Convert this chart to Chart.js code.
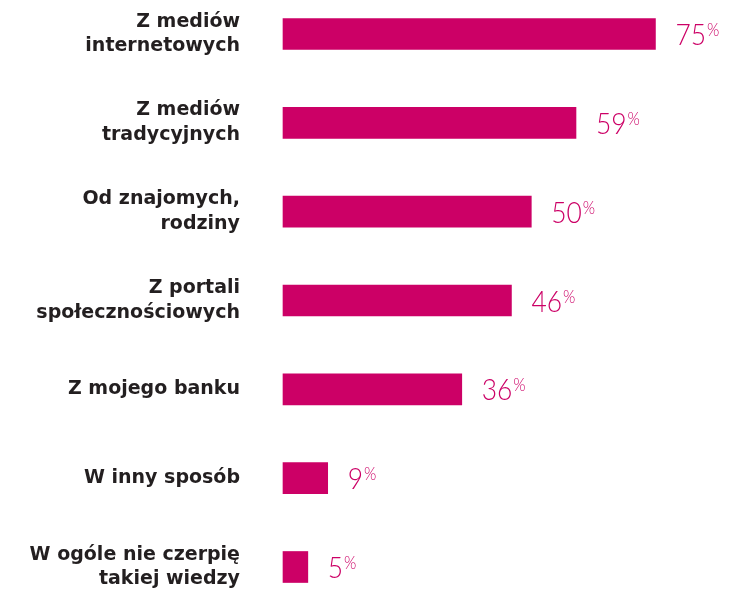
<!DOCTYPE html>
<html>
<head>
<meta charset="utf-8">
<script src="https://cdn.jsdelivr.net/npm/chart.js@4"></script>
<style>
  html, body { margin: 0; padding: 0; background: #ffffff; }
  #wrap { width: 731px; height: 594px; }
</style>
</head>
<body>
<div id="wrap"><canvas id="chart" width="731" height="594"></canvas></div>
<script>
// Skąd czerpiesz wiedzę — odsetek odpowiedzi
const categories = [
  ['Z mediów', 'internetowych'],
  ['Z mediów', 'tradycyjnych'],
  ['Od znajomych,', 'rodziny'],
  ['Z portali', 'społecznościowych'],
  ['Z mojego banku'],
  ['W inny sposób'],
  ['W ogóle nie czerpię', 'takiej wiedzy']
];
const shares = [75, 59, 50, 46, 36, 9, 5];

const BAR_COLOR = '#cc0066';
const LABEL_COLOR = '#231f20';

// Value labels: number in a light face plus a smaller raised percent sign
const valueLabels = {
  id: 'valueLabels',
  afterDatasetsDraw(chart) {
    const ctx = chart.ctx;
    const meta = chart.getDatasetMeta(0);
    ctx.save();
    ctx.fillStyle = BAR_COLOR;
    ctx.textBaseline = 'alphabetic';
    ctx.textAlign = 'left';
    meta.data.forEach((bar, i) => {
      const txt = String(shares[i]);
      const x = bar.x + 20;
      const y = bar.y + 11;
      ctx.save();
      ctx.translate(x, y);
      ctx.scale(0.88, 1);
      ctx.font = '300 30px Lato, "Open Sans", sans-serif';
      ctx.fillText(txt, 0, 0);
      const w = ctx.measureText(txt).width;
      ctx.font = '300 18px Lato, "Open Sans", sans-serif';
      ctx.fillText('%', w + 1, -9);
      ctx.restore();
    });
    ctx.restore();
  }
};

new Chart(document.getElementById('chart'), {
  type: 'bar',
  data: {
    labels: categories,
    datasets: [{
      data: shares,
      backgroundColor: BAR_COLOR,
      borderWidth: 0,
      barThickness: 31,
      clip: false
    }]
  },
  options: {
    indexAxis: 'y',
    responsive: false,
    animation: false,
    layout: { padding: { top: 34, bottom: 27, left: 0, right: 11 } },
    plugins: {
      legend: { display: false },
      tooltip: { enabled: false }
    },
    scales: {
      x: {
        display: false,
        min: 0,
        max: 88
      },
      y: {
        offset: false,
        grid: { display: false, drawTicks: false },
        border: { display: false },
        ticks: {
          padding: 43,
          color: LABEL_COLOR,
          font: { family: '"DejaVu Sans", sans-serif', weight: 'bold', size: 19, lineHeight: 1.3 }
        },
        afterFit(scale) {
          scale.width = 283;
          scale.paddingTop = 0;
          scale.paddingBottom = 0;
        }
      }
    }
  },
  plugins: [valueLabels]
});
</script>
</body>
</html>
